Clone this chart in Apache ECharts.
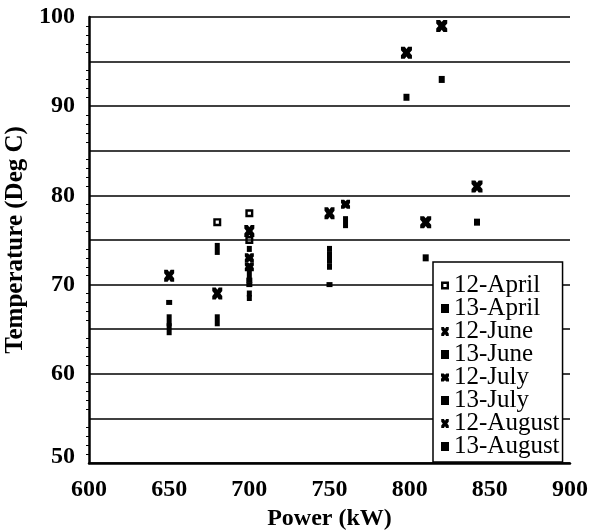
<!DOCTYPE html>
<html>
<head>
<meta charset="utf-8">
<script src="https://cdn.jsdelivr.net/npm/echarts@6/dist/echarts.min.js"></script>
<style>html,body{margin:0;padding:0;background:#fff}#c{width:604px;height:531px}</style>
</head>
<body>
<div id="c"></div>
<script>
// ---- data ----
const seriesNames = ['12-April','13-April','12-June','13-June','12-July','13-July','12-August','13-August'];
const apr12X = [680, 700, 700];            const apr12Y = [77, 78, 75];
const apr13X = [700, 700, 700, 750, 750];  const apr13Y = [74, 69, 68.5, 74, 72];
const jun12X = [650, 680, 700, 750];       const jun12Y = [71, 69, 76, 78];
const jun13X = [650, 650, 680, 680, 700, 750, 760]; const jun13Y = [65, 66, 66, 74, 71, 73, 77];
const jul12X = [700, 700, 760];            const jul12Y = [73, 72, 79];
const jul13X = [650, 700, 750, 700];       const jul13Y = [68, 70, 70, 70.5];
const aug12X = [798, 810, 820, 842];       const aug12Y = [96, 77, 99, 81];
const aug13X = [798, 810, 820, 842];       const aug13Y = [91, 73, 93, 77];
const xTicks = [600, 650, 700, 750, 800, 850, 900];
const yTicks = [50, 60, 70, 80, 90, 100];

const zip = (xs, ys) => xs.map((x, i) => [x, ys[i]]);
const hollow = 'path://M0,0 L10,0 L10,10 L0,10 Z M3,3 L3,7 L7,7 L7,3 Z';
const bowtie = 'path://M0,0 L3.5,0 L5,2.2 L6.5,0 L10,0 L10,3.5 L8,6 L10,8.5 L10,12 L6.5,12 L5,9.8 L3.5,12 L0,12 L0,8.5 L2,6 L0,3.5 Z';
const notched = 'path://M0,0 L3.5,0 L5,1.5 L6.5,0 L10,0 L10,3.5 L8.8,5 L10,6.5 L10,10 L6.5,10 L5,8.5 L3.5,10 L0,10 L0,6.5 L1.2,5 L0,3.5 Z';
const specs = [
  [apr12X, apr12Y, hollow, [8, 8]],
  [apr13X, apr13Y, 'rect', [5, 6]],
  [jun12X, jun12Y, bowtie, [10, 12]],
  [jun13X, jun13Y, 'rect', [5, 12]],
  [jul12X, jul12Y, notched, [9, 9]],
  [jul13X, jul13Y, 'rect', [6, 5]],
  [aug12X, aug12Y, bowtie, [11, 12]],
  [aug13X, aug13Y, 'rect', [6, 7]]
];
const font = '"Liberation Serif", "Times New Roman", serif';

const chart = echarts.init(document.getElementById('c'), null, {renderer: 'canvas'});
chart.setOption({
  backgroundColor: '#fff',
  animation: false,
  grid: {left: 89, right: 34, top: 17, bottom: 68, containLabel: false, outerBoundsMode: 'none'},
  xAxis: {
    type: 'value', min: 600, max: 900, interval: 50,
    name: 'Power (kW)', nameLocation: 'middle', nameGap: 42,
    nameTextStyle: {fontFamily: font, fontWeight: 'bold', fontSize: 24, color: '#000'},
    axisLine: {show: true, lineStyle: {color: '#000', width: 2.5}},
    axisTick: {show: false},
    axisLabel: {fontFamily: font, fontWeight: 'bold', fontSize: 24, color: '#000', margin: 15,
      formatter: v => xTicks.includes(v) ? String(v) : ''},
    splitLine: {show: false}
  },
  yAxis: {
    type: 'value', min: 50, max: 100, interval: 5,
    name: 'Temperature (Deg C)', nameLocation: 'middle', nameGap: 57,
    nameTextStyle: {fontFamily: font, fontWeight: 'bold', fontSize: 25, color: '#000'},
    axisLine: {show: true, lineStyle: {color: '#000', width: 2.5}},
    axisTick: {show: false},
    minorTick: {show: true, splitNumber: 5, length: 3, lineStyle: {color: '#000', width: 1}},
    axisLabel: {fontFamily: font, fontWeight: 'bold', fontSize: 24, color: '#000', margin: 14,
      formatter: v => v === 50 ? '{low|50}' : (yTicks.includes(v) ? String(v) : ''),
      rich: {low: {fontFamily: font, fontWeight: 'bold', fontSize: 24, color: '#000', padding: [0, 0, 12, 0]}}},
    splitLine: {show: true, lineStyle: {color: '#000', width: 1.6}}
  },
  legend: {
    orient: 'vertical', left: 433, top: 262,
    padding: [11, 3, 3, 8],
    itemGap: -2, itemWidth: 8, itemHeight: 9,
    backgroundColor: '#fff', borderColor: '#000', borderWidth: 1.5,
    textStyle: {fontFamily: font, fontSize: 25, color: '#000'},
    data: seriesNames
  },
  series: specs.map((s, i) => ({
    name: seriesNames[i],
    type: 'scatter',
    data: zip(s[0], s[1]),
    symbol: s[2],
    symbolSize: s[3],
    itemStyle: {color: '#000', borderWidth: 0, opacity: 1}
  }))
});
</script>
</body>
</html>
